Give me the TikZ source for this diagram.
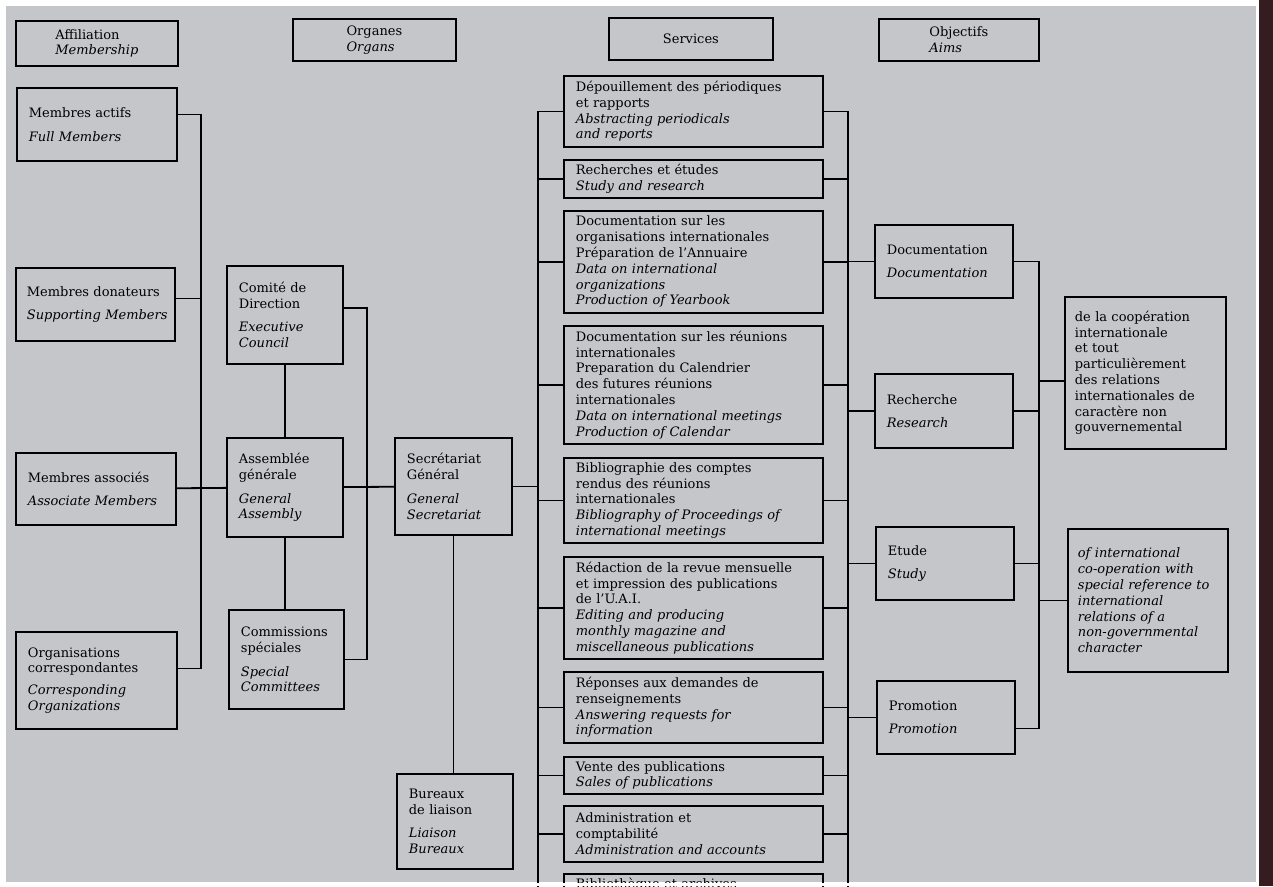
\documentclass[tikz,border=0pt]{standalone}
\usepackage{fontspec}
\setmainfont{DejaVu Serif}
\definecolor{paper}{RGB}{197,198,202}
\definecolor{spine}{RGB}{52,28,32}
\newcommand\chartfont{\fontsize{13}{15.8}\selectfont\spaceskip=0.5em plus 0.1em minus 0.25em\relax\hyphenpenalty=10000\relax}

\begin{document}
\begin{tikzpicture}[x=1pt, y=-1pt,
                every node/.style={font=\chartfont},
                box/.style={draw, line width=1.8pt, anchor=north west, inner xsep=12pt, inner ysep=3pt, align=left},
                head/.style={draw, line width=1.8pt, anchor=north west, align=left},
                link/.style={draw=black, line width=1.8pt}]
                \useasboundingbox (0,0) rectangle (1273,886);
                \clip (0,0) rectangle (1273,886);
                \fill[white] (0,0) rectangle (1273,886);
                \fill[paper] (6,6) rectangle (1256,882);
                \fill[spine] (1259,0) rectangle (1273,886);
                % column heads
                \node[head, minimum width=162, minimum height=45] (hmem) at (15,20) {Affiliation\\\textit{Membership}};
                \node[head, minimum width=163, minimum height=42] (horg) at (292,18) {Organes\\\textit{Organs}};
                \node[head, minimum width=164, minimum height=42] (hser) at (608,17) {Services};
                \node[head, minimum width=160, minimum height=42] (hobj) at (878,18) {Objectifs\\\textit{Aims}};
                % membership
                \node[box, text width=136, minimum height=73] (ma) at (16,87) {Membres actifs\\[8pt]\textit{Full Members}};
                \node[box, inner xsep=11pt, text width=137, minimum height=73] (md) at (15,267) {Membres donateurs\\[7pt]\textit{Supporting~Members}};
                \node[box, text width=136, minimum height=72] (mas) at (15,452) {Membres associés\\[8pt]\textit{Associate Members}};
                \node[box, text width=137, minimum height=97] (oc) at (15,631) {Organisations\\correspondantes\\[6pt]\textit{Corresponding}\\\textit{Organizations}};
                % organs
                \node[box, text width=92, minimum height=98] (cd) at (226,265) {Comité de\\Direction\\[8pt]\textit{Executive}\\\textit{Council}};
                \node[box, text width=92, minimum height=99] (ag) at (226,437) {Assemblée\\générale\\[8pt]\textit{General}\\\textit{Assembly}};
                \node[box, text width=91, minimum height=99] (cs) at (228,609) {Commissions\\spéciales\\[8pt]\textit{Special}\\\textit{Committees}};
                \node[box, text width=93, minimum height=97] (sg) at (394,437) {Secrétariat\\Général\\[8pt]\textit{General}\\\textit{Secretariat}};
                \node[box, text width=92, minimum height=95] (bl) at (396,773) {Bureaux\\de liaison\\[8pt]\textit{Liaison}\\\textit{Bureaux}};
                % services
                \node[box, text width=235, minimum height=71] (s1) at (563,75) {Dépouillement des périodiques\\et rapports\\\textit{Abstracting periodicals}\\\textit{and reports}};
                \node[box, text width=235, minimum height=38] (s2) at (563,159) {Recherches et études\\\textit{Study and research}};
                \node[box, text width=235, minimum height=102] (s3) at (563,210) {Documentation sur les\\organisations internationales\\Préparation de l'Annuaire\\\textit{Data on international}\\\textit{organizations}\\\textit{Production of Yearbook}};
                \node[box, text width=235, minimum height=118] (s4) at (563,325) {Documentation sur les réunions\\internationales\\Preparation du Calendrier\\des futures réunions\\internationales\\\textit{Data on international meetings}\\\textit{Production of Calendar}};
                \node[box, text width=235, minimum height=85] (s5) at (563,457) {Bibliographie des comptes\\rendus des réunions\\internationales\\\textit{Bibliography of Proceedings of}\\\textit{international meetings}};
                \node[box, text width=235, minimum height=102] (s6) at (563,556) {Rédaction de la revue mensuelle\\et impression des publications\\de l'U.A.I.\\\textit{Editing and producing}\\\textit{monthly magazine and}\\\textit{miscellaneous publications}};
                \node[box, text width=235, minimum height=71] (s7) at (563,671) {Réponses aux demandes de\\renseignements\\\textit{Answering requests for}\\\textit{information}};
                \node[box, text width=235, minimum height=37] (s8) at (563,756) {Vente des publications\\\textit{Sales of publications}};
                \node[box, text width=235, minimum height=56] (s9) at (563,805) {Administration et\\comptabilité\\\textit{Administration and accounts}};
                \node[box, text width=235, minimum height=40, inner ysep=4pt] (s10) at (563,873) {Bibliothèque et archives\\\strut};
                % aims
                \node[box, text width=114, minimum height=73] (a1) at (874,224) {Documentation\\[7pt]\textit{Documentation}};
                \node[box, text width=114, minimum height=74] (a2) at (874,373) {Recherche\\[7pt]\textit{Research}};
                \node[box, text width=114, minimum height=73] (a3) at (875,526) {Etude\\[7pt]\textit{Study}};
                \node[box, text width=114, minimum height=73] (a4) at (876,680) {Promotion\\[7pt]\textit{Promotion}};
                \node[box, inner xsep=10pt, text width=141, minimum height=152] (r1) at (1064,296) {de la coopération\\internationale\\et tout\\particulièrement\\des relations\\internationales de\\caractère non\\gouvernemental};
                \node[box, inner xsep=10pt, text width=140, minimum height=143] (r2) at (1067,528) {\itshape of international\\co-operation with\\special reference to\\international\\relations of a\\non-governmental\\character};
                % bus lines
                \coordinate (busL) at (201,0);
                \coordinate (busO) at (367,0);
                \coordinate (busS) at (538,0);
                \coordinate (busR) at (848,0);
                \coordinate (busA) at (1039,0);
                \coordinate (bot) at (0,900);
                % membership to organs
                \coordinate (ma-p) at ([yshift=10pt]ma.east);
                \coordinate (md-p) at ([yshift=6pt]md.east);
                \coordinate (oc-p) at ([yshift=12pt]oc.east);
                \draw[link] (ma-p) -| (oc-p -| busL) -- (oc-p);
                \draw[link] (md-p) -- (md-p -| busL);
                \draw[link] (mas) edge (ag) {};
                % organs
                \coordinate (cd-p) at ([yshift=7pt]cd.east);
                \draw[link] (cd) edge (ag) {};
                \draw[link] (ag.south) -- (ag.south |- cs.north);
                \draw[link] (cd-p) -| (cs.east -| busO) -- (cs.east);
                \draw[link] (ag) edge (sg) {};
                \draw[link] (sg.south) -- (sg.south |- bl.north);
                \draw[link] (sg.east) -- (sg.east -| busS);
                % services
                \draw[link] (s1.west -| busS) -- (bot -| busS);
                \draw[link] (s1.east -| busR) -- (bot -| busR);
                \foreach \s in {s1,s2,s3,s4,s5,s6,s7,s8,s9} {
                    \draw[link] (\s.west) -- (\s.west -| busS);
                    \draw[link] (\s.east) -- (\s.east -| busR);
                }
                % aims
                \foreach \a in {a1,a2,a3,a4}
                    \draw[link] (\a.west) -- (\a.west -| busR);
                \coordinate (a4-p) at ([yshift=-11pt]a4.east);
                \draw[link] (a1.east) -| (a4-p -| busA) -- (a4-p);
                \draw[link] (a2.east) -- (a2.east -| busA);
                \draw[link] (a3.east) -- (a3.east -| busA);
                \coordinate (r1-p) at ([yshift=-8pt]r1.west);
                \draw[link] (r1-p) -- (r1-p -| busA);
                \draw[link] (r2.west) -- (r2.west -| busA);
                \fill[white] (0,883) rectangle (1259,886);
            \end{tikzpicture}
\end{document}
